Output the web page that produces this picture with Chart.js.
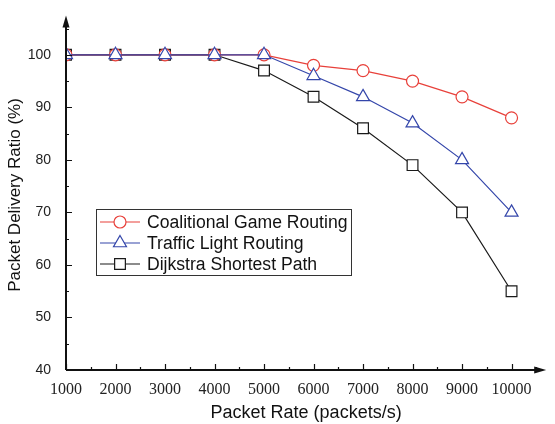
<!DOCTYPE html>
<html>
<head>
<meta charset="utf-8">
<script src="https://cdn.jsdelivr.net/npm/chart.js@4/dist/chart.umd.min.js"></script>
<style>
  html, body { margin: 0; padding: 0; background: #fff; }
  #wrap { width: 555px; height: 424px; }
</style>
</head>
<body>
<div id="wrap"><canvas id="pdrChart" width="555" height="424"></canvas></div>
<script>
// data
const packetRates = [1000, 2000, 3000, 4000, 5000, 6000, 7000, 8000, 9000, 10000];
const coalitional = [100, 100, 100, 100, 100, 98, 97, 95, 92, 88];
const trafficLight = [100, 100, 100, 100, 100, 96, 92, 87, 80, 70];
const dijkstra = [100, 100, 100, 100, 97, 92, 86, 79, 70, 55];
const xTicks = [1000, 2000, 3000, 4000, 5000, 6000, 7000, 8000, 9000, 10000];
const yTicks = [40, 50, 60, 70, 80, 90, 100];

const toXY = (vals) => packetRates.map((x, i) => ({ x: x, y: vals[i] }));

// order: lower number is painted on top (triangles cover the others at 100%)
const series = [
    { label: 'Coalitional Game Routing', data: coalitional, color: '#e8403a', style: 'circle', radius: 6, order: 1 },
    { label: 'Traffic Light Routing', data: trafficLight, color: '#3446aa', style: 'triangle', radius: 7.5, order: 0 },
    { label: 'Dijkstra Shortest Path', data: dijkstra, color: '#1a1a1a', style: 'rect', radius: 7.6, order: 2 },
];

const sansFont = '"Liberation Sans", Arial, sans-serif';

// axes with arrows + inward tick marks, and the rotated y title
const axesPlugin = {
    id: 'axesPlugin',
    afterDatasetsDraw(chart) {
        const { ctx, chartArea: a, scales: { x, y } } = chart;
        ctx.save();
        ctx.strokeStyle = '#111';
        ctx.fillStyle = '#111';
        ctx.lineWidth = 2;
        ctx.beginPath();
        ctx.moveTo(a.left, a.bottom);
        ctx.lineTo(a.right - 6, a.bottom);
        ctx.moveTo(a.left, a.bottom);
        ctx.lineTo(a.left, a.top + 6);
        ctx.stroke();
        // arrow heads
        ctx.beginPath();
        ctx.moveTo(a.right, a.bottom);
        ctx.lineTo(a.right - 12, a.bottom - 3.5);
        ctx.lineTo(a.right - 12, a.bottom + 3.5);
        ctx.closePath();
        ctx.fill();
        ctx.beginPath();
        ctx.moveTo(a.left, a.top);
        ctx.lineTo(a.left - 3.5, a.top + 12);
        ctx.lineTo(a.left + 3.5, a.top + 12);
        ctx.closePath();
        ctx.fill();

        ctx.lineWidth = 1.2;
        ctx.beginPath();
        for (let v = 1000; v <= 10500; v += 500) {
            const px = Math.round(x.getPixelForValue(v)) + 0.5;
            const len = v % 1000 === 0 ? 6 : 3;
            ctx.moveTo(px, a.bottom);
            ctx.lineTo(px, a.bottom - len);
        }
        for (let v = 45; v <= 105; v += 5) {
            const py = Math.round(y.getPixelForValue(v)) + 0.5;
            const len = v % 10 === 0 ? 6 : 3;
            ctx.moveTo(a.left, py);
            ctx.lineTo(a.left + len, py);
        }
        ctx.stroke();

        // y axis title (origin puts it a little below the plot centre)
        ctx.translate(15, 195);
        ctx.rotate(-Math.PI / 2);
        ctx.font = '17px ' + sansFont;
        ctx.textAlign = 'center';
        ctx.textBaseline = 'middle';
        ctx.fillText('Packet Delivery Ratio (%)', 0, 0);
        ctx.restore();
    }
};

// boxed legend inside the plot
const boxLegend = {
    id: 'boxLegend',
    afterDraw(chart) {
        const ctx = chart.ctx;
        const box = { left: 96, top: 209, width: 255, height: 66 };
        ctx.save();
        ctx.fillStyle = '#fff';
        ctx.fillRect(box.left, box.top, box.width, box.height);
        ctx.strokeStyle = '#333';
        ctx.lineWidth = 1;
        ctx.strokeRect(box.left + 0.5, box.top + 0.5, box.width, box.height);
        ctx.font = '17.6px ' + sansFont;
        ctx.textBaseline = 'middle';
        series.forEach((s, i) => {
            const cy = box.top + 13 + i * 21;
            ctx.strokeStyle = s.color;
            ctx.lineWidth = 1.2;
            ctx.beginPath();
            ctx.moveTo(box.left + 4, cy);
            ctx.lineTo(box.left + 44, cy);
            ctx.stroke();
            ctx.fillStyle = '#fff';
            Chart.helpers.drawPoint(ctx, {
                pointStyle: s.style, radius: s.radius, rotation: 0, borderWidth: 1.2
            }, box.left + 24, cy);
            ctx.fillStyle = '#111';
            ctx.fillText(s.label, box.left + 51, cy + 1);
        });
        ctx.restore();
    }
};

const ctx = document.getElementById('pdrChart').getContext('2d');
new Chart(ctx, {
    type: 'line',
    data: {
        datasets: series.map(s => ({
            label: s.label,
            data: toXY(s.data),
            order: s.order,
            borderColor: s.color,
            backgroundColor: '#fff',
            borderWidth: 1.2,
            pointStyle: s.style,
            pointRadius: s.radius,
            pointBorderWidth: 1.2,
            pointBorderColor: s.color,
            pointBackgroundColor: '#fff',
            tension: 0,
            clip: { left: 0, top: false, right: false, bottom: false },
        }))
    },
    options: {
        responsive: false,
        animation: false,
        layout: { padding: { top: 8, right: 2, left: 0, bottom: 0 } },
        plugins: { legend: { display: false }, tooltip: { enabled: false } },
        scales: {
            x: {
                type: 'linear',
                min: 1000,
                max: 10700,
                afterBuildTicks: (scale) => { scale.ticks = xTicks.map(v => ({ value: v })); },
                afterFit: (scale) => { scale.height = 54; },
                grid: { display: false },
                border: { display: false },
                ticks: {
                    padding: 2,
                    maxRotation: 0,
                    autoSkip: false,
                    color: '#222',
                    font: { family: '"Liberation Serif", "Times New Roman", serif', size: 16 },
                    callback: (v) => String(v)
                },
                title: {
                    display: true,
                    text: 'Packet Rate (packets/s)',
                    color: '#111',
                    font: { family: sansFont, size: 18 },
                    padding: { top: 0, bottom: 0 }
                }
            },
            y: {
                min: 40,
                max: 107.5,
                afterBuildTicks: (scale) => { scale.ticks = yTicks.map(v => ({ value: v })); },
                afterFit: (scale) => { scale.width = 66; },
                grid: { display: false },
                border: { display: false },
                ticks: {
                    padding: 7,
                    color: '#222',
                    font: { family: sansFont, size: 14 },
                }
            }
        }
    },
    plugins: [axesPlugin, boxLegend]
});
</script>
</body>
</html>
